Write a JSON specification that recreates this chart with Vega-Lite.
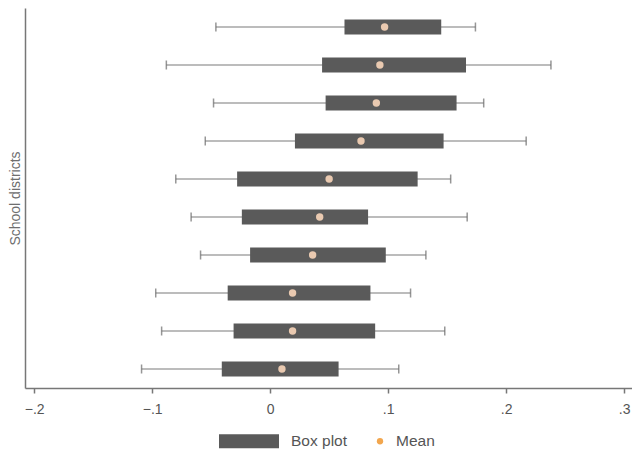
{
  "$schema": "https://vega.github.io/schema/vega-lite/v6.json",
  "width": 607,
  "height": 380,
  "autosize": {"type": "none"},
  "padding": {"left": 25, "top": 8, "right": 0, "bottom": 66},
  "background": "white",
  "config": {
    "view": {"stroke": null},
    "font": "Liberation Sans"
  },
  "data": {
    "values": [
      {"district": "D1", "low": -0.046, "q1": 0.063, "mean": 0.097, "q3": 0.145, "high": 0.174},
      {"district": "D2", "low": -0.088, "q1": 0.044, "mean": 0.093, "q3": 0.166, "high": 0.238},
      {"district": "D3", "low": -0.048, "q1": 0.047, "mean": 0.090, "q3": 0.158, "high": 0.181},
      {"district": "D4", "low": -0.055, "q1": 0.021, "mean": 0.077, "q3": 0.147, "high": 0.217},
      {"district": "D5", "low": -0.080, "q1": -0.028, "mean": 0.050, "q3": 0.125, "high": 0.153},
      {"district": "D6", "low": -0.067, "q1": -0.024, "mean": 0.042, "q3": 0.083, "high": 0.167},
      {"district": "D7", "low": -0.059, "q1": -0.017, "mean": 0.036, "q3": 0.098, "high": 0.132},
      {"district": "D8", "low": -0.097, "q1": -0.036, "mean": 0.019, "q3": 0.085, "high": 0.119},
      {"district": "D9", "low": -0.092, "q1": -0.031, "mean": 0.019, "q3": 0.089, "high": 0.148},
      {"district": "D10", "low": -0.109, "q1": -0.041, "mean": 0.010, "q3": 0.058, "high": 0.109}
    ]
  },
  "encoding": {
    "y": {
      "field": "district",
      "type": "nominal",
      "sort": null,
      "scale": {"paddingInner": 0, "paddingOuter": 0},
      "axis": {
        "title": "School districts",
        "labels": false,
        "ticks": false,
        "domainColor": "#777777",
        "domainWidth": 1.5,
        "titleColor": "#6e6e6e",
        "titleFont": "Liberation Sans",
        "titleFontSize": 14,
        "titleFontWeight": "normal",
        "titlePadding": 3
      }
    }
  },
  "layer": [
    {
      "mark": {"type": "rule", "color": "#7a7a7a", "strokeWidth": 1.2},
      "encoding": {
        "x": {
          "field": "low",
          "type": "quantitative",
          "scale": {"domain": [-0.2078, 0.3067], "nice": false, "zero": false},
          "axis": {
            "title": null,
            "values": [-0.2, -0.1, 0, 0.1, 0.2, 0.3],
            "labelExpr": "datum.value == 0 ? '0' : replace(format(datum.value, '.1f'), '0.', '.')",
            "grid": false,
            "domainColor": "#777777",
            "domainWidth": 1.5,
            "tickColor": "#777777",
            "tickSize": 5,
            "tickWidth": 1.5,
            "labelColor": "#555555",
            "labelFontSize": 14,
            "labelPadding": 9,
            "labelFlush": false
          }
        },
        "x2": {"field": "high"}
      }
    },
    {
      "mark": {"type": "tick", "color": "#6a6a6a", "size": 9, "thickness": 1.5},
      "encoding": {"x": {"field": "low", "type": "quantitative"}}
    },
    {
      "mark": {"type": "tick", "color": "#6a6a6a", "size": 9, "thickness": 1.5},
      "encoding": {"x": {"field": "high", "type": "quantitative"}}
    },
    {
      "mark": {"type": "bar", "size": 15},
      "encoding": {
        "x": {"field": "q1", "type": "quantitative"},
        "x2": {"field": "q3"},
        "color": {
          "datum": "Box plot",
          "type": "nominal",
          "scale": {"domain": ["Box plot", "Mean"], "range": ["#5a5a5a", "#f2a64e"]},
          "legend": {
            "title": null,
            "orient": "none",
            "legendX": 240,
            "legendY": 423,
            "direction": "horizontal",
            "columns": 2,
            "columnPadding": 22,
            "symbolSize": 400,
            "labelFontSize": 15.5,
            "labelColor": "#555555",
            "labelOffset": 6,
            "encode": {
              "symbols": {
                "update": {
                  "shape": {"signal": "datum.value === 'Mean' ? 'circle' : 'M-5.6,-0.7H0.4V0.7H-5.6Z'"},
                  "size": {"signal": "datum.value === 'Mean' ? 40 : 400"},
                  "strokeWidth": {"value": 0}
                }
              }
            }
          }
        }
      }
    },
    {
      "mark": {"type": "point", "filled": true, "size": 55, "opacity": 1, "color": "#e9c9b0"},
      "encoding": {
        "x": {"field": "mean", "type": "quantitative"}
      }
    }
  ]
}
